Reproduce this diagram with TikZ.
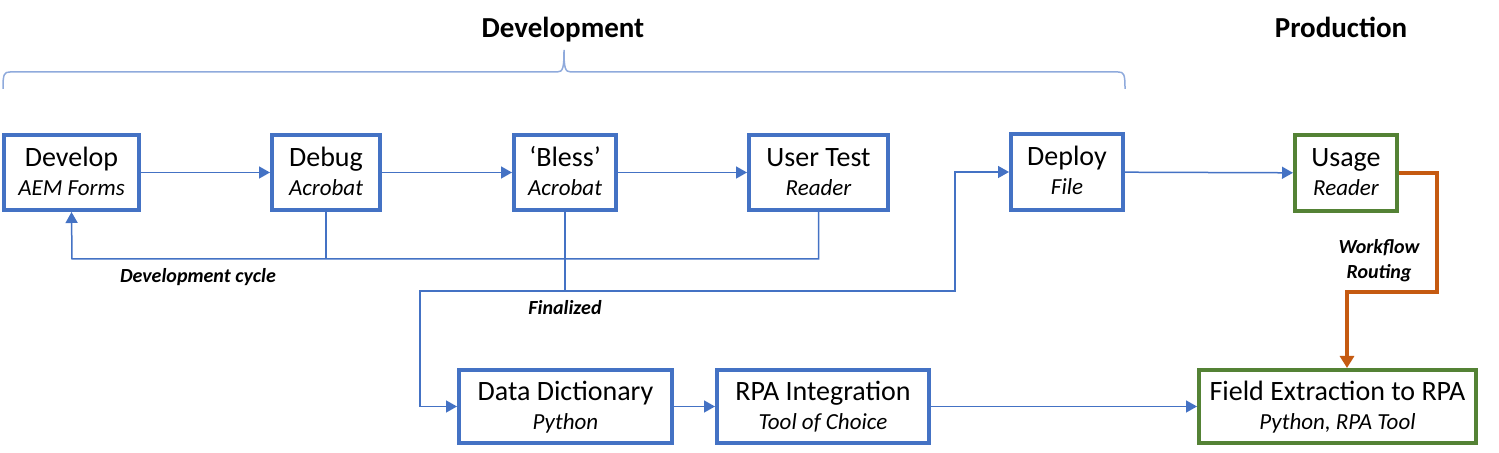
\documentclass[tikz,border=0pt]{standalone}
\usepackage{fontspec}
\setmainfont{Carlito}
\usetikzlibrary{arrows.meta}
\definecolor{blueA}{HTML}{4472C4}
\definecolor{blueL}{HTML}{8FAADC}
\definecolor{greenA}{HTML}{548235}
\definecolor{orangeA}{HTML}{C55A11}
\newcommand\mainfs{\fontsize{14}{16}\selectfont}
\newcommand\subfs{\fontsize{11.5}{14}\selectfont\itshape}
\newcommand\lblfs{\fontsize{10}{12}\selectfont\bfseries\itshape}
\newcommand\bx[8][blueA]{\node[box, draw=#1, minimum width={(#5-#3-4)*0.5pt}, minimum height={(#6-#4-4)*0.5pt}] (#2) at ({(#3+#5)/2},{(#4+#6)/2}) {\mainfs\vphantom{Agy‘}#7\\[2.5pt]{\subfs\vphantom{Agy}#8}};}
\tikzset{
  box/.style={line width=2pt, fill=white, inner sep=0pt, align=center},
  conn/.style={draw=blueA, line width=0.75pt, -{Triangle[length=5.5pt,width=6pt]}},
  plain/.style={draw=blueA, line width=0.75pt},
  oconn/.style={draw=orangeA, line width=2pt, -{Triangle[length=6pt,width=7pt]}},
  lbl/.style={font=\lblfs, inner sep=0pt},
  title/.style={font=\fontsize{14.5}{17}\selectfont\bfseries, inner sep=0pt, anchor=base}
}
\begin{document}
\begin{tikzpicture}[x=0.5pt,y=-0.5pt]
\useasboundingbox (0,0) rectangle (1499,453);
% titles
\node[title] (tdev) at (563,38) {Development};
\node[title] (tprod) at (1341,38) {Production};
% brace
\draw[blueL, line width=0.75pt] (3,89) .. controls (3,74) and (4,72) .. (10,72) -- (557,72) .. controls (563,72) and (564,68) .. (564,50) .. controls (564,68) and (565,72) .. (571,72) -- (1118,72) .. controls (1124,72) and (1125,74) .. (1125,89);
% boxes
\bx{dev}{2}{133}{141}{212}{Develop}{AEM Forms}
\bx{dbg}{270}{133}{382}{212}{Debug}{Acrobat}
\bx{bls}{512}{133}{618}{212}{‘Bless’}{Acrobat}
\bx{ust}{747}{133}{890}{212}{User Test}{Reader}
\bx{dep}{1009}{132}{1125}{212}{Deploy}{File}
\bx[greenA]{use}{1293}{133}{1399}{213}{Usage}{Reader}
\bx{dd}{457}{368}{674}{445}{Data Dictionary}{Python}
\bx{rpa}{715}{368}{931}{445}{RPA Integration}{Tool of Choice}
\bx[greenA]{fe}{1197}{368}{1478}{445}{Field Extraction to RPA}{Python, RPA Tool}
% top row
\draw[conn] (dev) -- (dbg);
\draw[conn] (dbg) -- (bls);
\draw[conn] (bls) -- (ust);
\draw[conn] (dep) -- (use);
% development cycle
\coordinate (cyc) at (72,259);
\draw[conn] (ust.south) |- (cyc) -- (dev.south);
\draw[plain] (dbg.south) -- (dbg.south |- cyc);
\node[lbl] (lcyc) at (198,277) {Development cycle};
% finalized
\coordinate (j1) at (420,291);
\coordinate (j2) at (955,291);
\draw[conn] (bls.south) -- (bls.south |- j1) -- (j1) |- (dd.west);
\draw[conn] (bls.south |- j1) -- (j2) |- (dep.west);
\node[lbl] (lfin) at (565,308) {Finalized};
% bottom row
\draw[conn] (dd) -- (rpa);
\draw[conn] (rpa) -- (fe);
% workflow routing
\coordinate (o1) at (1437,292);
\coordinate (o2) at (1347,292);
\draw[oconn] (use.east) -| (o1) -- (o2) -- (o2 |- fe.north);
\node[lbl] (lwf1) at (1379,248) {Workflow};
\node[lbl] (lwf2) at (1379,273) {Routing};
\end{tikzpicture}
\end{document}
